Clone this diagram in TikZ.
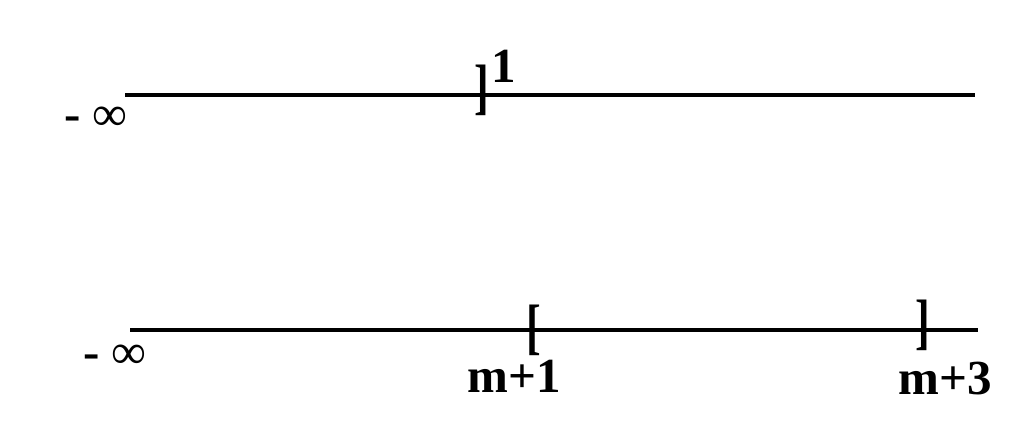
\documentclass[tikz,border=0pt]{standalone}
\usepackage{fontspec}
\setmainfont{Liberation Serif}
\newcommand{\tallbr}[1]{\scalebox{0.9}[1.25]{#1}}
\begin{document}
\begin{tikzpicture}[x=0.5pt,y=-0.5pt,
    axis/.style={line width=2.2pt},
    lbl/.style={inner sep=0, font=\fontsize{24.5}{29}\selectfont\bfseries},
    inf/.style={inner sep=0, font=\fontsize{24.5}{29}\selectfont}]
  \useasboundingbox (0,0) rectangle (1024,438);
  % upper line
  \coordinate (al) at (125,95);
  \coordinate (ar) at (975,95);
  \draw[axis] (al) -- (ar);
  \node[inf] (ainf) at (96,119) {{\bfseries -} ∞};
  \node[lbl] (abr) at (482,90) {\tallbr{]}};
  \node[lbl] (aone) at (504,66) {1};
  % lower line
  \coordinate (bl) at (130,330);
  \coordinate (br) at (978,330);
  \draw[axis] (bl) -- (br);
  \node[inf] (binf) at (115,357) {{\bfseries -} ∞};
  \node[lbl] (bbl) at (534,330) {\tallbr{[}};
  \node[lbl] (bbr) at (923,325) {\tallbr{]}};
  \node[lbl, anchor=base] (bm1) at (514,393) {m+1};
  \node[lbl, anchor=base] (bm3) at (945,395) {m+3};
\end{tikzpicture}
\end{document}
